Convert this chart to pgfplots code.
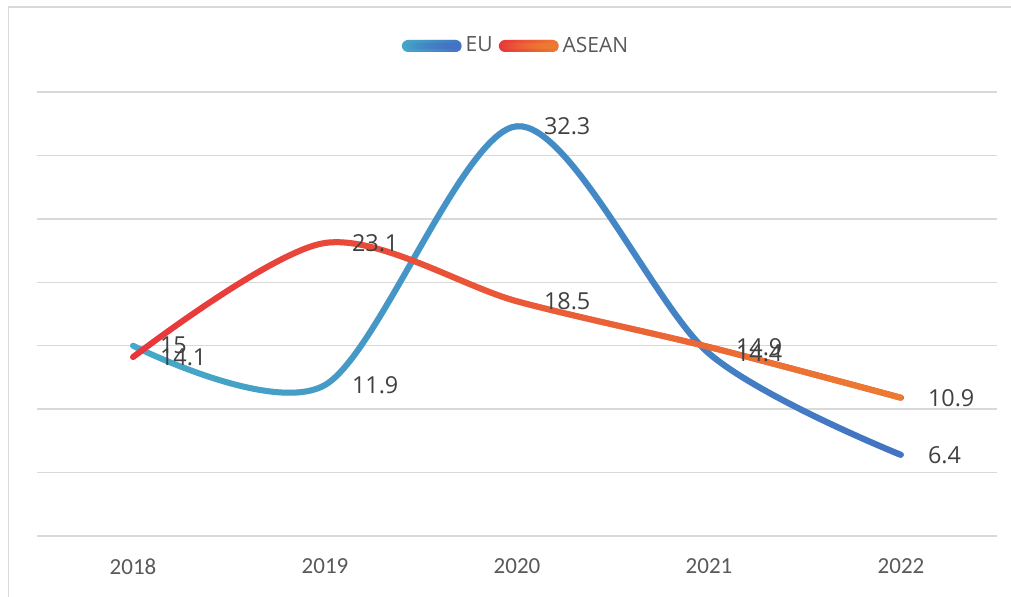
\documentclass[border=0pt]{standalone}
\usepackage{pgfplots}
\pgfplotsset{compat=1.18}
\usepackage{fontspec}
\setmainfont{Open Sans}
\newfontfamily\carlito{Carlito}
\usetikzlibrary{fadings}
\definecolor{eucyan}{HTML}{46AAC8}
\definecolor{eublue}{HTML}{4472C4}
\definecolor{asred}{HTML}{E8363D}
\definecolor{asorange}{HTML}{ED7D31}
\definecolor{gridgray}{HTML}{D9D9D9}
\definecolor{labgray}{HTML}{404040}
\definecolor{tickgray}{HTML}{595959}
\tikzfading[name=fadeEU, left color=transparent!100, middle color=transparent!92, right color=transparent!0]
\tikzfading[name=fadeAS, left color=transparent!100, middle color=transparent!10, right color=transparent!0]
\tikzfading[name=fadeLin, left color=transparent!100, right color=transparent!0]
\begin{document}
\begin{tikzpicture}
\useasboundingbox (0,0) rectangle (505.5pt,298.5pt);
\draw[gridgray, line width=0.75pt] (4.25pt,0) -- (4.25pt,295pt) -- (505.5pt,295pt);
\begin{axis}[
 at={(18.5pt,30.5pt)}, anchor=south west,
 scale only axis, width=480pt, height=222pt,
 xmin=-0.5, xmax=4.5, ymin=0, ymax=35,
 xtick={0,1,2,3,4}, xticklabels={2018,2019,2020,2021,2022},
 ytick={0,5,...,35}, yticklabels={},
 ymajorgrids, grid style={gridgray, line width=0.75pt},
 axis line style={draw=none}, major tick length=0pt,
 xticklabel style={font=\carlito\fontsize{11.5}{13}\selectfont, text=tickgray, yshift=-8pt},
 clip=false,
 legend style={at={(0.5,1.1036)}, anchor=center, draw=none, fill=none, font=\fontsize{10.5}{13}\selectfont, text=tickgray, legend columns=2, /tikz/every even column/.append style={column sep=1pt}},
 every axis plot/.append style={line width=3pt, line cap=round, line join=round},
]
% EU
\addplot[eucyan, smooth, forget plot] coordinates {(0,15) (1,11.9) (2,32.3) (3,14.4) (4,6.4)};
\addplot[eublue, smooth, forget plot, path fading=fadeEU] coordinates {(0,15) (1,11.9) (2,32.3) (3,14.4) (4,6.4)};
% ASEAN
\addplot[asred, smooth, forget plot] coordinates {(0,14.1) (1,23.1) (2,18.5) (3,14.9) (4,10.9)};
\addplot[asorange, smooth, forget plot, path fading=fadeAS] coordinates {(0,14.1) (1,23.1) (2,18.5) (3,14.9) (4,10.9)};
% labels
\addplot[draw=none, forget plot, nodes near coords, point meta=explicit symbolic,
 every node near coord/.append style={anchor=west, xshift=12pt, inner sep=0pt, font=\fontsize{11.7}{14}\selectfont, text=labgray}]
 coordinates {(0,15)[15] (1,11.9)[11.9] (2,32.3)[32.3] (3,14.4)[14.4] (4,6.4)[6.4]};
\addplot[draw=none, forget plot, nodes near coords, point meta=explicit symbolic,
 every node near coord/.append style={anchor=west, xshift=12pt, inner sep=0pt, font=\fontsize{11.7}{14}\selectfont, text=labgray}]
 coordinates {(0,14.1)[14.1] (1,23.1)[23.1] (2,18.5)[18.5] (3,14.9)[14.9] (4,10.9)[10.9]};
\addlegendimage{legend image code/.code={
  \fill[eucyan, rounded corners=1.5pt] (0pt,-1.5pt) rectangle (27pt,1.5pt);
  \fill[eublue, rounded corners=1.5pt, path fading=fadeLin] (0pt,-1.5pt) rectangle (27pt,1.5pt);}}
\addlegendentry{EU}
\addlegendimage{legend image code/.code={
  \fill[asred, rounded corners=1.5pt] (0pt,-1.5pt) rectangle (27pt,1.5pt);
  \fill[asorange, rounded corners=1.5pt, path fading=fadeLin] (0pt,-1.5pt) rectangle (27pt,1.5pt);}}
\addlegendentry{ASEAN}
\end{axis}
\end{tikzpicture}
\end{document}
